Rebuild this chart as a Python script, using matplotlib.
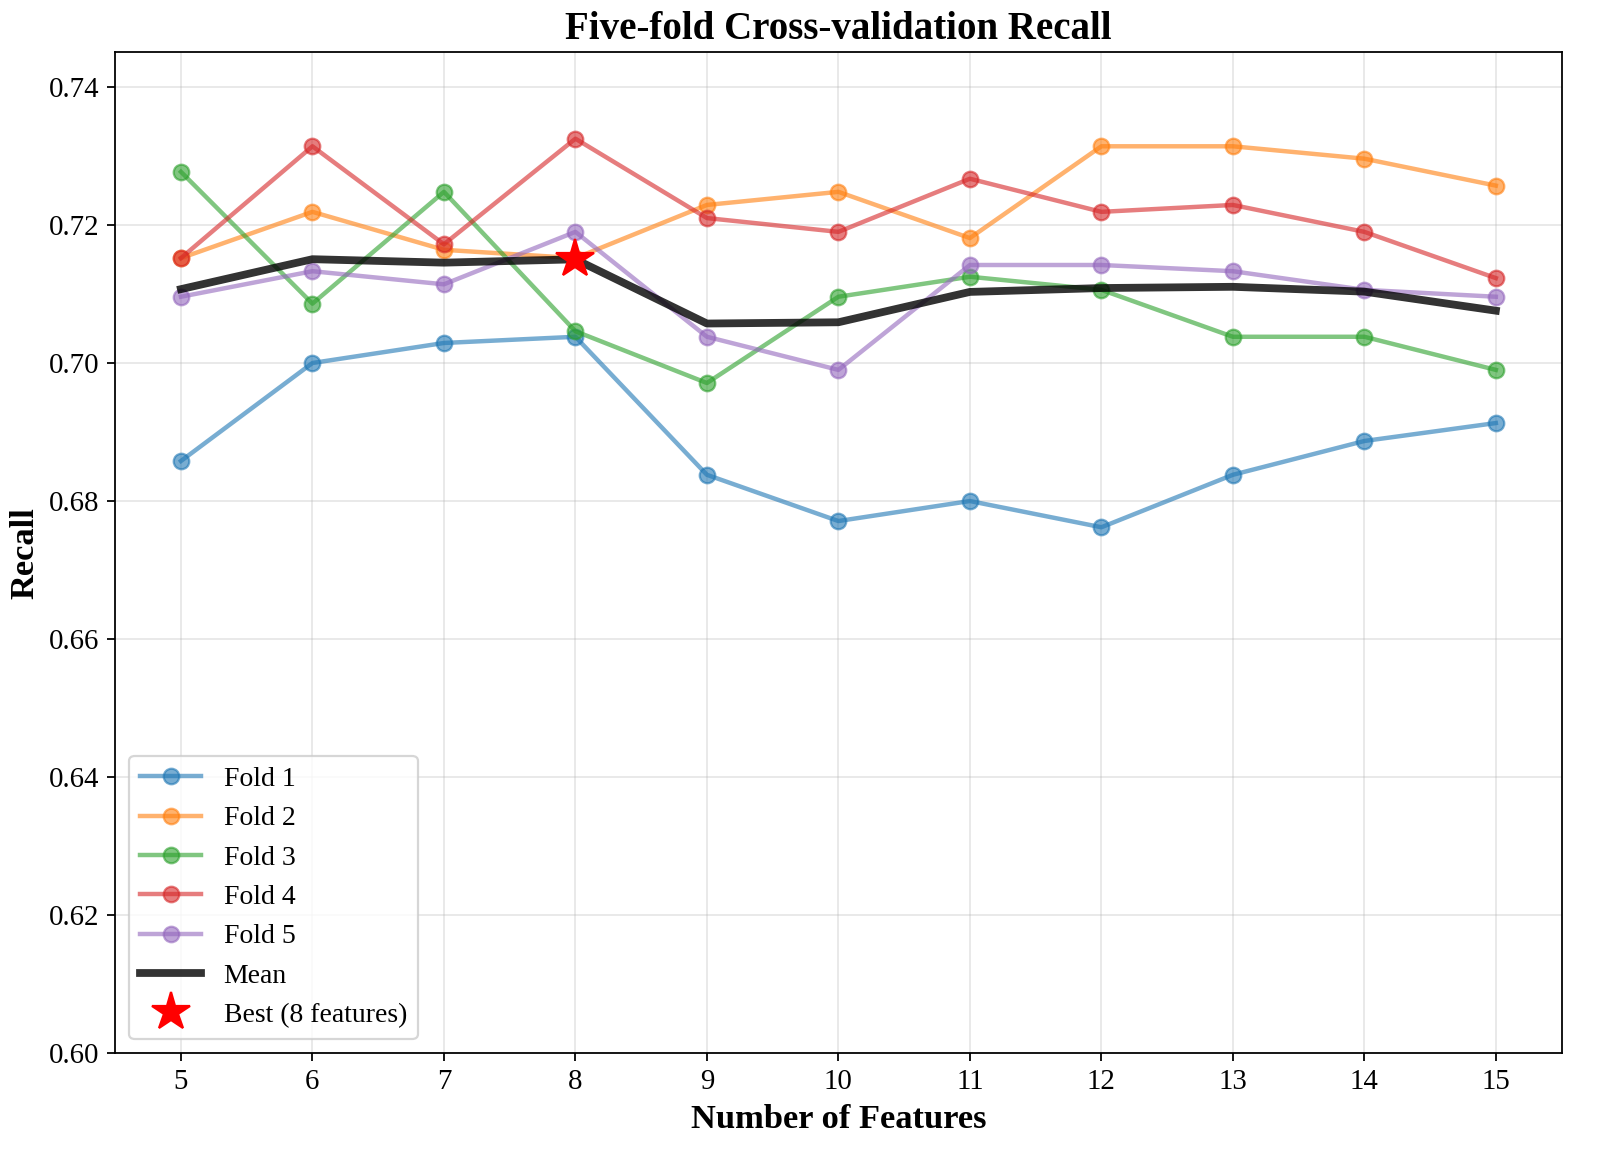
import numpy as np
import matplotlib
matplotlib.use("Agg")
import matplotlib.pyplot as plt

plt.rcParams["font.family"] = ["Liberation Serif", "DejaVu Serif"]

n_features = [5, 6, 7, 8, 9, 10, 11, 12, 13, 14, 15]

fold1 = [0.6858, 0.7000, 0.7029, 0.7038, 0.6838, 0.6771, 0.6800, 0.6762, 0.6838, 0.6887, 0.6913]
fold2 = [0.7152, 0.7219, 0.7164, 0.7152, 0.7229, 0.7248, 0.7181, 0.7314, 0.7314, 0.7296, 0.7257]
fold3 = [0.7277, 0.7086, 0.7248, 0.7046, 0.6971, 0.7096, 0.7125, 0.7106, 0.7038, 0.7038, 0.6990]
fold4 = [0.7152, 0.7314, 0.7172, 0.7325, 0.7210, 0.7190, 0.7267, 0.7219, 0.7229, 0.7190, 0.7123]
fold5 = [0.7096, 0.7133, 0.7114, 0.7190, 0.7038, 0.6990, 0.7142, 0.7142, 0.7133, 0.7106, 0.7096]

folds = [fold1, fold2, fold3, fold4, fold5]
fold_labels = ["Fold 1", "Fold 2", "Fold 3", "Fold 4", "Fold 5"]
colors = ["#1f77b4", "#ff7f0e", "#2ca02c", "#d62728", "#9467bd"]

mean_recall = np.mean(np.array(folds), axis=0)
best_n = 8
best_idx = n_features.index(best_n)

fig = plt.figure(figsize=(10, 7.28125), dpi=160)
ax = fig.add_axes([0.072, 0.096, 0.904, 0.859])

for vals, lab, c in zip(folds, fold_labels, colors):
    ax.plot(n_features, vals, marker="o", color=c, linewidth=2, markersize=7,
            alpha=0.6, label=lab)

ax.plot(n_features, mean_recall, color="black", linewidth=3.5, alpha=0.8, label="Mean")
ax.plot(n_features[best_idx], mean_recall[best_idx], marker="*", color="red",
        markersize=18, linestyle="none", zorder=5, label=f"Best ({best_n} features)")

ax.set_xlim(4.5, 15.5)
ax.set_ylim(0.60, 0.745)
ax.set_xticks(n_features)
ax.set_yticks([0.60, 0.62, 0.64, 0.66, 0.68, 0.70, 0.72, 0.74])
ax.yaxis.set_major_formatter(matplotlib.ticker.FormatStrFormatter("%.2f"))
ax.tick_params(labelsize=13)
ax.grid(True, alpha=0.3)

ax.set_title("Five-fold Cross-validation Recall", fontsize=17.5, fontweight="bold")
ax.set_xlabel("Number of Features", fontsize=15.5, fontweight="bold", labelpad=4)
ax.set_ylabel("Recall", fontsize=15.5, fontweight="bold")

ax.legend(loc="lower left", fontsize=12.5, handlelength=2.2)

fig.savefig("out.png", dpi=160)
